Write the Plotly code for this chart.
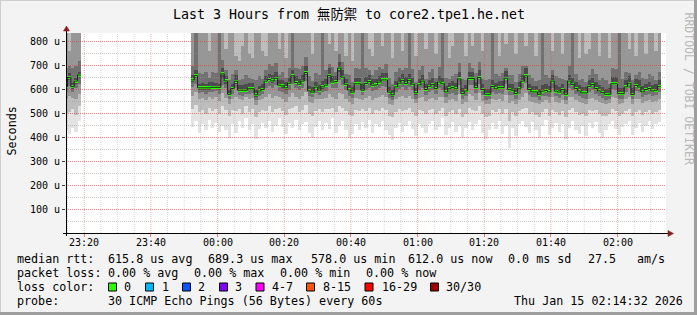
import plotly.graph_objects as go
import pandas as pd

# ---------------- data ----------------
seg_start = ["2026-01-14 23:14", "2026-01-14 23:52"]   # first minute of each data run
seg_len = [5, 141]                                       # number of 60 s steps in each run
x_range = ["2026-01-14 23:14:32", "2026-01-15 02:14:32"]

# median rtt per step (microseconds)
median_us = [
    611, 650, 612, 635, 660,
    640, 658, 607, 607, 607, 607, 609, 609, 609, 665,
    636, 580, 604, 635, 597, 597, 597, 603, 603, 578,
    594, 600, 635, 642, 636, 647, 618, 615, 607, 626,
    657, 629, 622, 635, 671, 594, 589, 610, 597, 611,
    618, 658, 631, 633, 689, 651, 622, 598, 589, 624,
    624, 597, 625, 633, 618, 619, 631, 640, 640, 589,
    578, 611, 626, 638, 625, 638, 622, 586, 619, 635,
    600, 613, 621, 604, 631, 624, 590, 603, 608, 603,
    644, 583, 594, 646, 646, 608, 650, 600, 580, 580,
    613, 603, 608, 608, 647, 600, 597, 583, 603, 635,
    657, 600, 590, 590, 580, 593, 596, 590, 635, 593,
    589, 600, 580, 635, 621, 604, 594, 586, 586, 613,
    621, 604, 594, 587, 580, 580, 624, 624, 583, 583,
    611, 626, 579, 617, 610, 590, 600, 604, 594, 597, 612,
]

# sorted ping ranks (of 30) per step, microseconds (values above ~835 are off the chart)
ping_p01 = [
    430, 415, 440, 425, 470,
    445, 470, 420, 455, 430, 475, 440, 460, 425, 450,
    430, 400, 455, 420, 470, 440, 480, 430, 455, 395,
    435, 460, 440, 470, 425, 450, 480, 445, 415, 460,
    440, 475, 430, 455, 465, 420, 400, 445, 470, 430,
    460, 435, 480, 420, 450, 470, 430, 400, 415, 455,
    430, 465, 440, 475, 420, 455, 445, 470, 430, 410,
    390, 440, 460, 425, 450, 470, 435, 405, 455, 440,
    420, 455, 470, 430, 445, 480, 410, 440, 465, 425,
    450, 400, 440, 465, 430, 455, 475, 420, 395, 430,
    460, 435, 470, 415, 450, 355, 440, 405, 455, 470,
    445, 420, 465, 430, 400, 450, 475, 410, 440, 460,
    425, 455, 395, 440, 470, 430, 415, 450, 405, 460,
    440, 465, 420, 400, 430, 455, 470, 435, 410, 445,
    455, 470, 410, 440, 460, 425, 450, 470, 435, 455, 465,
]
ping_p04 = [
    500, 505, 520, 495, 530,
    520, 535, 505, 515, 500, 525, 510, 520, 498, 530,
    515, 490, 515, 510, 520, 500, 530, 505, 520, 485,
    505, 515, 510, 530, 505, 520, 525, 510, 495, 520,
    525, 530, 505, 515, 535, 500, 490, 510, 520, 505,
    520, 520, 525, 505, 530, 525, 510, 495, 490, 515,
    510, 520, 510, 525, 500, 515, 510, 525, 515, 490,
    485, 505, 520, 510, 515, 525, 505, 490, 515, 510,
    500, 515, 520, 500, 510, 525, 490, 505, 515, 500,
    520, 485, 500, 525, 515, 510, 530, 500, 485, 490,
    515, 505, 520, 500, 520, 470, 505, 488, 510, 520,
    525, 500, 505, 495, 485, 505, 520, 490, 515, 505,
    495, 510, 485, 515, 525, 505, 495, 500, 488, 515,
    510, 515, 500, 488, 490, 500, 520, 510, 490, 500,
    510, 520, 488, 505, 515, 495, 505, 515, 500, 508, 515,
]
ping_p07 = [
    560, 575, 565, 560, 580,
    575, 590, 560, 565, 555, 570, 562, 568, 552, 585,
    565, 540, 560, 570, 560, 555, 570, 560, 565, 535,
    555, 560, 570, 580, 565, 575, 570, 562, 550, 568,
    585, 570, 560, 572, 590, 550, 545, 562, 560, 560,
    565, 580, 570, 560, 585, 580, 562, 548, 540, 565,
    562, 558, 565, 572, 558, 565, 568, 578, 570, 540,
    535, 560, 568, 572, 565, 575, 560, 542, 565, 570,
    552, 562, 566, 555, 568, 568, 545, 555, 560, 552,
    580, 538, 550, 580, 575, 558, 585, 552, 538, 540,
    562, 555, 560, 552, 578, 545, 552, 540, 556, 570,
    585, 552, 548, 545, 538, 550, 555, 545, 570, 550,
    545, 555, 538, 570, 568, 555, 548, 545, 540, 562,
    565, 558, 550, 542, 538, 545, 568, 565, 540, 545,
    560, 568, 540, 560, 562, 545, 552, 558, 550, 552, 560,
]
ping_p10 = [
    590, 615, 590, 605, 625,
    610, 625, 585, 590, 582, 588, 590, 592, 580, 620,
    605, 560, 582, 605, 578, 575, 582, 580, 585, 555,
    575, 582, 605, 615, 605, 618, 595, 590, 582, 600,
    625, 605, 598, 608, 635, 572, 568, 585, 578, 588,
    595, 625, 605, 605, 640, 620, 598, 575, 565, 600,
    600, 578, 600, 608, 595, 598, 605, 615, 612, 565,
    555, 588, 602, 612, 600, 612, 598, 562, 596, 608,
    578, 590, 598, 580, 605, 600, 568, 580, 585, 578,
    618, 560, 572, 620, 618, 585, 625, 578, 558, 560,
    590, 580, 585, 583, 622, 578, 576, 560, 582, 608,
    628, 578, 568, 568, 558, 572, 575, 568, 608, 572,
    566, 578, 558, 608, 598, 582, 572, 565, 562, 590,
    598, 582, 572, 564, 558, 560, 602, 600, 562, 562,
    588, 605, 560, 595, 588, 568, 578, 582, 572, 576, 590,
]
ping_p13 = [
    603, 638, 603, 625, 650,
    630, 648, 600, 600, 598, 600, 602, 603, 600, 650,
    625, 572, 596, 625, 590, 590, 592, 596, 597, 570,
    588, 594, 628, 635, 628, 640, 612, 608, 600, 620,
    648, 622, 615, 628, 660, 588, 582, 603, 590, 604,
    612, 650, 625, 626, 675, 643, 615, 592, 582, 618,
    618, 592, 620, 628, 612, 614, 625, 635, 634, 582,
    570, 605, 620, 632, 620, 633, 616, 578, 614, 628,
    594, 607, 615, 598, 625, 618, 585, 597, 602, 597,
    638, 576, 588, 640, 640, 602, 644, 594, 574, 574,
    607, 597, 602, 602, 641, 594, 591, 577, 598, 628,
    650, 594, 584, 585, 574, 588, 591, 584, 628, 588,
    583, 594, 574, 628, 616, 598, 588, 580, 580, 607,
    616, 598, 588, 581, 574, 575, 619, 618, 578, 578,
    605, 622, 575, 612, 605, 585, 595, 600, 590, 593, 607,
]
ping_p18 = [
    625, 668, 628, 650, 675,
    660, 680, 625, 628, 622, 630, 632, 628, 625, 690,
    655, 598, 625, 660, 618, 620, 622, 628, 628, 600,
    615, 622, 658, 665, 660, 672, 640, 638, 630, 650,
    680, 655, 645, 660, 700, 615, 612, 632, 620, 635,
    642, 690, 655, 658, 715, 680, 645, 620, 612, 650,
    650, 622, 652, 660, 645, 645, 658, 668, 668, 612,
    600, 635, 652, 665, 652, 665, 648, 608, 645, 660,
    625, 638, 648, 630, 658, 650, 615, 628, 635, 628,
    672, 605, 618, 675, 675, 632, 680, 625, 602, 604,
    640, 628, 635, 635, 678, 625, 622, 606, 630, 662,
    690, 625, 615, 615, 604, 618, 622, 615, 660, 618,
    612, 625, 604, 662, 650, 630, 618, 610, 610, 640,
    650, 630, 618, 610, 604, 605, 652, 652, 608, 608,
    638, 655, 605, 645, 638, 615, 625, 630, 620, 622, 640,
]
ping_p21 = [
    690, 700, 690, 700, 720,
    700, 900, 670, 665, 675, 650, 672, 668, 880, 725,
    680, 640, 665, 680, 640, 645, 660, 650, 645, 640,
    655, 645, 680, 705, 700, 710, 660, 675, 650, 690,
    900, 690, 685, 700, 735, 655, 635, 670, 660, 870,
    680, 705, 695, 675, 750, 715, 665, 660, 630, 690,
    685, 860, 690, 680, 660, 680, 695, 685, 705, 650,
    625, 675, 690, 680, 690, 880, 685, 630, 680, 700,
    645, 675, 685, 650, 695, 880, 650, 645, 655, 665,
    710, 645, 640, 710, 690, 670, 715, 645, 640, 645,
    870, 665, 655, 670, 690, 660, 660, 630, 665, 700,
    700, 660, 650, 635, 640, 870, 660, 650, 680, 655,
    650, 645, 640, 700, 880, 665, 640, 645, 630, 660,
    685, 665, 640, 648, 640, 625, 690, 685, 860, 645,
    675, 670, 640, 660, 675, 650, 645, 665, 655, 640, 675,
]
ping_p24 = [
    880, 760, 900, 860, 950,
    900, 1200, 880, 950, 870, 760, 900, 980, 1150, 1000,
    770, 880, 920, 740, 720, 780, 900, 750, 730, 860,
    900, 760, 740, 960, 900, 1000, 770, 880, 730, 940,
    1250, 900, 960, 880, 1050, 880, 750, 920, 870, 1150,
    950, 790, 900, 760, 1100, 980, 740, 880, 720, 920,
    870, 1100, 950, 770, 740, 900, 870, 780, 960, 880,
    730, 900, 940, 760, 900, 1200, 930, 740, 880, 960,
    770, 900, 880, 750, 940, 1150, 870, 730, 780, 920,
    980, 870, 740, 960, 780, 880, 1000, 760, 880, 900,
    1150, 930, 740, 960, 790, 870, 920, 750, 900, 950,
    780, 880, 900, 740, 860, 1100, 900, 880, 760, 920,
    900, 750, 870, 960, 1150, 900, 730, 880, 750, 770,
    940, 880, 740, 900, 870, 730, 960, 900, 1100, 880,
    920, 770, 870, 740, 930, 880, 750, 900, 940, 760, 900,
]
ping_p27 = [
    1200, 1100, 1300, 1150, 1400,
    1300, 1500, 1200, 1050, 1250, 1300, 1150, 1400, 1100, 1600,
    1250, 1150, 1350, 1100, 1300, 1200, 1000, 1350, 1250, 1200,
    1300, 1100, 1400, 1250, 1300, 1500, 1200, 1300, 1050, 1400,
    1500, 1300, 1150, 1350, 1600, 1250, 1300, 1150, 1350, 1250,
    1350, 1450, 1250, 1300, 1700, 1450, 1300, 1050, 1250, 1350,
    1250, 1400, 1300, 1150, 1300, 1400, 1250, 1450, 1350, 1200,
    1200, 1300, 1400, 1250, 1350, 1200, 1450, 1250, 1300, 1400,
    1300, 1150, 1400, 1300, 1250, 1450, 1250, 1100, 1350, 1300,
    1450, 1250, 1350, 1400, 1300, 1250, 1500, 1350, 1250, 1300,
    1250, 1350, 1300, 1400, 1300, 1150, 1350, 1250, 1450, 1300,
    1500, 1300, 1350, 1250, 1300, 1400, 1300, 1350, 1250, 1400,
    1250, 1300, 1200, 1450, 1300, 1350, 1250, 1400, 1300, 1400,
    1350, 1250, 1400, 1300, 1200, 1300, 1450, 1300, 1350, 1250,
    1300, 1400, 1250, 1350, 1300, 1350, 1300, 1400, 1350, 1250, 1350,
]
ping_p30 = [
    2400, 2100, 2600, 2300, 2900,
    2500, 2800, 2300, 2200, 2400, 2600, 2300, 2700, 2100, 2900,
    2400, 2200, 2600, 2100, 2500, 2300, 2000, 2600, 2400, 2300,
    2500, 2100, 2700, 2400, 2500, 2800, 2300, 2500, 2100, 2700,
    2800, 2500, 2200, 2600, 3000, 2400, 2500, 2200, 2600, 2400,
    2600, 2700, 2400, 2500, 3100, 2700, 2500, 2100, 2400, 2600,
    2400, 2700, 2500, 2200, 2500, 2700, 2400, 2800, 2600, 2300,
    2300, 2500, 2700, 2400, 2600, 2300, 2800, 2400, 2500, 2700,
    2500, 2200, 2700, 2500, 2400, 2800, 2400, 2100, 2600, 2500,
    2800, 2400, 2600, 2700, 2500, 2400, 2900, 2600, 2400, 2500,
    2400, 2600, 2500, 2700, 2500, 2200, 2600, 2400, 2800, 2500,
    2900, 2500, 2600, 2400, 2500, 2700, 2500, 2600, 2400, 2700,
    2400, 2500, 2300, 2800, 2500, 2600, 2400, 2700, 2500, 2700,
    2600, 2400, 2700, 2500, 2300, 2500, 2800, 2500, 2600, 2400,
    2500, 2700, 2400, 2600, 2500, 2600, 2500, 2700, 2600, 2400, 2600,
]

x_tick_times = ["2026-01-14 23:20", "2026-01-14 23:40", "2026-01-15 00:00",
                "2026-01-15 00:20", "2026-01-15 00:40", "2026-01-15 01:00",
                "2026-01-15 01:20", "2026-01-15 01:40", "2026-01-15 02:00"]
x_tick_labels = ["23:20", "23:40", "00:00", "00:20", "00:40", "01:00", "01:20", "01:40", "02:00"]
y_tick_vals = [0, 100, 200, 300, 400, 500, 600, 700, 800]
y_tick_labels = ["0", "100 u", "200 u", "300 u", "400 u", "500 u", "600 u", "700 u", "800 u"]

title_text = "Last 3 Hours from 無防禦 to core2.tpe1.he.net"
legend_median = ["median rtt:", "615.8 us avg", "689.3 us max", "578.0 us min",
                 "612.0 us now", "0.0 ms sd", "27.5", "am/s"]
legend_loss = ["packet loss:", "0.00 % avg", "0.00 % max", "0.00 % min", "0.00 % now"]
loss_labels = ["0", "1", "2", "3", "4-7", "8-15", "16-29", "30/30"]
loss_colors = ["#26ff00", "#00b8ff", "#0059ff", "#7e00ff", "#ff00ff", "#ff5500", "#ff0000", "#a10000"]
probe_text = "30 ICMP Echo Pings (56 Bytes) every 60s"
stamp_text = "Thu Jan 15 02:14:32 2026"
watermark = "RRDTOOL / TOBI OETIKER"

# ---------------- layout geometry (pixels) ----------------
W, H = 697, 315
PL, PR, PT, PB = 66, 666, 33, 233
Y_RANGE = [2.083, 835.42]
MONO = "DejaVu Sans Mono, Noto Sans CJK TC, monospace"


def px_x(px):
    return (px - PL) / (PR - PL)


def px_y(py):
    return (PB - py) / (PB - PT)


# ---------------- build ----------------
starts = []
for s, n in zip(seg_start, seg_len):
    starts += list(pd.date_range(s, periods=n, freq="60s"))
step = pd.Timedelta(seconds=60)
centers = [t + step / 2 for t in starts]

fig = go.Figure()

smoke_layers = [
    (ping_p01, ping_p30, "#e3e3e3"),
    (ping_p04, ping_p27, "#bdbdbd"),
    (ping_p07, ping_p24, "#979797"),
    (ping_p10, ping_p21, "#717171"),
    (ping_p13, ping_p18, "#4b4b4b"),
]
for lo, hi, col in smoke_layers:
    fig.add_trace(go.Bar(
        x=centers, base=lo, y=[h - l for l, h in zip(lo, hi)],
        width=60000, marker=dict(color=col, line=dict(width=0)),
        opacity=1, hoverinfo="skip"))

# loss-coloured median marks (0 loss -> green)
mark_h = 12.5
fig.add_trace(go.Bar(
    x=centers, base=[m - mark_h / 2 for m in median_us], y=[mark_h] * len(median_us),
    width=60000, marker=dict(color=loss_colors[0], line=dict(width=0)),
    opacity=1, hoverinfo="skip"))

# grid lines (scatter traces sit above bars, like rrdtool's grid over the graph)
t0, t1 = pd.Timestamp(x_range[0]), pd.Timestamp(x_range[1])
grid_h = {True: "rgba(225,60,60,0.6)", False: "rgba(150,150,150,0.5)"}
grid_v = {True: "rgba(225,60,60,0.42)", False: "rgba(150,150,150,0.33)"}
for major in (False, True):
    hx, hy = [], []
    for v in range(50, 850, 50):
        if (v % 100 == 0) == major:
            hx += [t0, t1, None]
            hy += [v, v, None]
    vx, vy = [], []
    for t in pd.date_range("2026-01-14 23:15", "2026-01-15 02:10", freq="5min"):
        if (t.minute % 20 == 0) == major:
            vx += [t, t, None]
            vy += [Y_RANGE[0], Y_RANGE[1], None]
    fig.add_trace(go.Scatter(x=hx, y=hy, mode="lines", connectgaps=False, hoverinfo="skip",
                             line=dict(color=grid_h[major], width=1, dash="1px,1px")))
    fig.add_trace(go.Scatter(x=vx, y=vy, mode="lines", connectgaps=False, hoverinfo="skip",
                             line=dict(color=grid_v[major], width=1, dash="1px,1px")))

# dark median step line
lx, ly = [], []
i = 0
for n in seg_len:
    for k in range(n):
        lx.append(starts[i + k])
        ly.append(median_us[i + k])
    lx.append(starts[i + n - 1] + step)
    ly.append(median_us[i + n - 1])
    lx.append(None)
    ly.append(None)
    i += n
fig.add_trace(go.Scatter(x=lx, y=ly, mode="lines", connectgaps=False,
                         line=dict(color="#202020", width=1, shape="hv"),
                         hoverinfo="skip"))

shapes = []
# axes with arrows
shapes.append(dict(type="line", xref="paper", yref="paper", x0=px_x(63), x1=px_x(668),
                   y0=px_y(233.5), y1=px_y(233.5), layer="above", line=dict(color="black", width=1)))
shapes.append(dict(type="line", xref="paper", yref="paper", x0=px_x(66.5), x1=px_x(66.5),
                   y0=px_y(236), y1=px_y(30), layer="above", line=dict(color="black", width=1)))


def tri(points):
    p = "M " + " L ".join(f"{px_x(a)} {px_y(b)}" for a, b in points) + " Z"
    return dict(type="path", xref="paper", yref="paper", path=p, layer="above",
                fillcolor="#8b1a1a", line=dict(color="#8b1a1a", width=0.5))


shapes.append(tri([(668, 230.5), (673.5, 233.5), (668, 236.5)]))
shapes.append(tri([(63.5, 31), (66.5, 26), (69.5, 31)]))

# frame
shapes.append(dict(type="rect", xref="paper", yref="paper", x0=px_x(0), x1=px_x(W), y0=px_y(0), y1=px_y(1),
                   fillcolor="#cfcfcf", line=dict(width=0), layer="above"))
shapes.append(dict(type="rect", xref="paper", yref="paper", x0=px_x(0), x1=px_x(1), y0=px_y(0), y1=px_y(H),
                   fillcolor="#cfcfcf", line=dict(width=0), layer="above"))
shapes.append(dict(type="rect", xref="paper", yref="paper", x0=px_x(0), x1=px_x(W), y0=px_y(312), y1=px_y(H),
                   fillcolor="#9e9e9e", line=dict(width=0), layer="above"))
shapes.append(dict(type="rect", xref="paper", yref="paper", x0=px_x(694), x1=px_x(W), y0=px_y(0), y1=px_y(H),
                   fillcolor="#9e9e9e", line=dict(width=0), layer="above"))

ann = []


def text(s, x, y, size, anchor="left", color="black", angle=0):
    ann.append(dict(text=s, xref="paper", yref="paper", x=px_x(x), y=px_y(y),
                    xanchor=anchor, yanchor="middle", showarrow=False, borderpad=0,
                    textangle=angle, font=dict(family=MONO, size=size, color=color)))


# title and side texts
text(title_text, 348.5, 14.5, 13.3, anchor="center")
text("Seconds", 11.5, 131, 11.7, anchor="center", angle=-90)
text(watermark, 688.5, 88, 11.5, anchor="center", color="#b8b8b8", angle=90)

# y tick labels (centred like rrdtool)
for v, s in zip(y_tick_vals, y_tick_labels):
    ann.append(dict(text=s, xref="paper", yref="y", x=px_x(45), y=v, xanchor="center",
                    yanchor="middle", showarrow=False, borderpad=0,
                    font=dict(family=MONO, size=10, color="black")))
# x tick labels
for t, s in zip(x_tick_times, x_tick_labels):
    ann.append(dict(text=s, xref="x", yref="paper", x=t, y=px_y(242.5), xanchor="center",
                    yanchor="middle", showarrow=False, borderpad=0,
                    font=dict(family=MONO, size=10, color="black")))

# legend rows
for s, x in zip(legend_median, [16, 107, 207, 310, 407, 507, 587, 636]):
    text(s, x, 258.5, 11.7)
for s, x in zip(legend_loss, [16, 107, 193, 279, 365]):
    text(s, x, 272.5, 11.7)
text("loss color:", 16, 286.5, 11.7)
box_x = [108.5, 145.5, 182.5, 219.5, 256, 306.5, 365, 430.5]
lab_x = [123, 160.5, 197, 234, 270.5, 321.5, 380.5, 445.5]
for c, lbl, bx, tx in zip(loss_colors, loss_labels, box_x, lab_x):
    shapes.append(dict(type="rect", xref="paper", yref="paper", x0=px_x(bx), x1=px_x(bx + 8),
                       y0=px_y(291), y1=px_y(283), fillcolor=c, layer="above",
                       line=dict(color="black", width=1)))
    text(lbl, tx, 286.5, 11.7)
text("probe:", 16, 300.5, 11.7)
text(probe_text, 107, 300.5, 11.7)
text(stamp_text, 513, 300.5, 11.7)

fig.update_layout(
    width=W, height=H,
    margin=dict(l=PL, r=W - PR, t=PT, b=H - PB, pad=0),
    paper_bgcolor="#f3f3f3", plot_bgcolor="white",
    showlegend=False, barmode="overlay", bargap=0,
    font=dict(family=MONO, size=11, color="black"),
    shapes=shapes, annotations=ann,
    xaxis=dict(type="date", range=x_range, showgrid=False, zeroline=False, showline=False,
               showticklabels=False, ticks="outside", ticklen=3, tickcolor="rgba(225,70,70,0.7)",
               tickvals=x_tick_times, fixedrange=True),
    yaxis=dict(range=Y_RANGE, showgrid=False, zeroline=False, showline=False,
               showticklabels=False, ticks="outside", ticklen=3, tickcolor="#404040",
               tickvals=y_tick_vals, fixedrange=True),
)

fig.write_html("out.html")
